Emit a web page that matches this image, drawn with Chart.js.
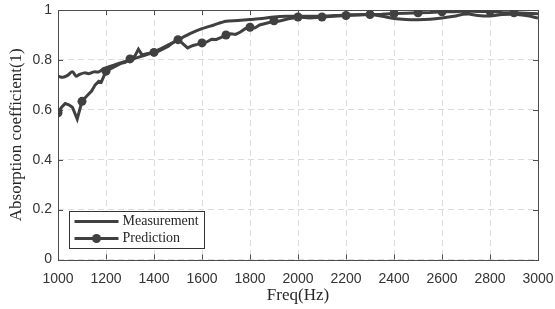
<!DOCTYPE html>
<html>
<head>
<meta charset="utf-8">
<script src="https://cdn.jsdelivr.net/npm/chart.js@4.4.1/dist/chart.umd.min.js"></script>
<style>
  body { margin: 0; background: #fff; }
  canvas { display: block; }
</style>
</head>
<body>
<canvas id="absorption-chart" width="555" height="309"></canvas>
<script>
// Measurement curve (Hz, coefficient)
const measFreq = [1000, 1020, 1040, 1060, 1075, 1090, 1110, 1130, 1150, 1170, 1190, 1210, 1250, 1300, 1350, 1400, 1450, 1500, 1550, 1600, 1650, 1700, 1750, 1800, 1850, 1900, 1950, 2000, 2100, 2200, 2300, 2350, 2400, 2450, 2500, 2550, 2600, 2650, 2700, 2750, 2800, 2850, 2900, 2950, 3000];
const measValue = [0.735, 0.73, 0.738, 0.753, 0.735, 0.742, 0.748, 0.745, 0.752, 0.752, 0.765, 0.772, 0.785, 0.80, 0.815, 0.832, 0.855, 0.88, 0.905, 0.925, 0.94, 0.955, 0.958, 0.962, 0.966, 0.972, 0.975, 0.975, 0.975, 0.98, 0.982, 0.975, 0.966, 0.962, 0.961, 0.963, 0.968, 0.975, 0.985, 0.978, 0.976, 0.982, 0.983, 0.978, 0.968];

// Prediction curve (Hz, coefficient)
const predFreq = [1000, 1015, 1030, 1045, 1060, 1080, 1100, 1120, 1140, 1155, 1170, 1180, 1200, 1220, 1240, 1260, 1280, 1300, 1320, 1335, 1350, 1370, 1400, 1420, 1440, 1460, 1480, 1500, 1520, 1540, 1560, 1580, 1600, 1620, 1640, 1660, 1680, 1700, 1720, 1740, 1760, 1780, 1800, 1820, 1840, 1860, 1880, 1900, 1920, 1940, 1960, 1980, 2000, 2050, 2100, 2150, 2200, 2250, 2300, 2350, 2400, 2450, 2500, 2550, 2600, 2650, 2700, 2750, 2800, 2850, 2900, 2950, 3000];
const predValue = [0.588, 0.61, 0.625, 0.62, 0.61, 0.563, 0.634, 0.655, 0.675, 0.70, 0.714, 0.71, 0.755, 0.765, 0.775, 0.785, 0.79, 0.804, 0.815, 0.843, 0.82, 0.825, 0.83, 0.835, 0.845, 0.855, 0.87, 0.881, 0.865, 0.848, 0.857, 0.862, 0.868, 0.872, 0.883, 0.882, 0.89, 0.90, 0.905, 0.902, 0.912, 0.925, 0.931, 0.928, 0.94, 0.945, 0.95, 0.957, 0.955, 0.96, 0.965, 0.968, 0.972, 0.968, 0.972, 0.975, 0.978, 0.98, 0.982, 0.983, 0.986, 0.987, 0.989, 0.99, 0.993, 0.993, 0.996, 0.994, 0.995, 0.99, 0.989, 0.987, 0.985];

const xTicks = [1000, 1200, 1400, 1600, 1800, 2000, 2200, 2400, 2600, 2800, 3000];
const yTicks = [0, 0.2, 0.4, 0.6, 0.8, 1];

const lineColor = '#404040';
const frameColor = '#4d4d4d';

function toPoints(xs, ys) {
    return xs.map((x, i) => ({ x: x, y: ys[i] }));
}

// box + inward ticks, MATLAB style
const framePlugin = {
    id: 'frame',
    beforeDatasetsDraw(chart) {
        const { ctx, chartArea: a, scales } = chart;
        ctx.save();
        ctx.strokeStyle = frameColor;
        ctx.lineWidth = 1;
        ctx.setLineDash([]);
        ctx.strokeRect(Math.round(a.left) + 0.5, Math.round(a.top) + 0.5, Math.round(a.right - a.left), Math.round(a.bottom - a.top));
        const len = 5;
        ctx.beginPath();
        xTicks.forEach(t => {
            const px = Math.round(scales.x.getPixelForValue(t)) + 0.5;
            ctx.moveTo(px, a.bottom); ctx.lineTo(px, a.bottom - len);
            ctx.moveTo(px, a.top); ctx.lineTo(px, a.top + len);
        });
        yTicks.forEach(t => {
            const py = Math.round(scales.y.getPixelForValue(t)) + 0.5;
            ctx.moveTo(a.left, py); ctx.lineTo(a.left + len, py);
            ctx.moveTo(a.right, py); ctx.lineTo(a.right - len, py);
        });
        ctx.stroke();
        ctx.restore();
    }
};

// legend box in lower left of the plot
const legendPlugin = {
    id: 'innerLegend',
    afterDraw(chart) {
        const { ctx, chartArea: a } = chart;
        const x0 = Math.round(a.left) + 11.5;
        const y0 = Math.round(a.bottom) - 48.5;
        ctx.save();
        ctx.fillStyle = '#fff';
        ctx.fillRect(x0, y0, 135, 37);
        ctx.strokeStyle = '#333';
        ctx.lineWidth = 1;
        ctx.strokeRect(x0, y0, 135, 37);
        ctx.font = '14px "Liberation Serif"';
        ctx.textBaseline = 'middle';
        chart.data.datasets.forEach((ds, i) => {
            const cy = y0 + 10 + i * 17;
            ctx.strokeStyle = lineColor;
            ctx.lineWidth = 3;
            ctx.beginPath();
            ctx.moveTo(x0 + 5, cy);
            ctx.lineTo(x0 + 49, cy);
            ctx.stroke();
            if (i === 1) {
                ctx.fillStyle = lineColor;
                ctx.beginPath();
                ctx.arc(x0 + 27, cy, 4.5, 0, Math.PI * 2);
                ctx.fill();
            }
            ctx.fillStyle = '#262626';
            ctx.fillText(ds.label, x0 + 53, cy);
        });
        ctx.restore();
    }
};

const ctx = document.getElementById('absorption-chart').getContext('2d');
const chart = new Chart(ctx, {
    type: 'line',
    data: {
        datasets: [
            {
                label: 'Measurement',
                data: toPoints(measFreq, measValue),
                borderColor: lineColor,
                borderWidth: 3,
                pointRadius: 0,
                tension: 0.3
            },
            {
                label: 'Prediction',
                data: toPoints(predFreq, predValue),
                borderColor: lineColor,
                backgroundColor: lineColor,
                borderWidth: 3,
                pointRadius: c => (c.raw && c.raw.x % 100 === 0 && c.raw.x < 3000) ? 4.5 : 0,
                pointBorderWidth: 0,
                tension: 0
            }
        ]
    },
    options: {
        responsive: false,
        animation: false,
        layout: { padding: { top: 10, right: 17, left: 0, bottom: 0 } },
        plugins: { legend: { display: false }, tooltip: { enabled: false } },
        scales: {
            x: {
                type: 'linear',
                min: 1000,
                max: 3000,
                afterBuildTicks: s => { s.ticks = xTicks.map(v => ({ value: v })); },
                afterFit: s => { s.height = 49.5; s.paddingLeft = 0; s.paddingRight = 0; },
                grid: { color: '#dcdcdc', drawTicks: false },
                border: { display: false, dash: [6, 4] },
                ticks: { color: '#333', font: { family: '"Liberation Sans"', size: 14 }, padding: 11, maxRotation: 0, callback: v => String(v) },
                title: { display: true, text: 'Freq(Hz)', color: '#262626', font: { family: '"Liberation Serif"', size: 17 }, padding: { top: 0, bottom: 3 } }
            },
            y: {
                min: 0,
                max: 1,
                afterBuildTicks: s => { s.ticks = yTicks.map(v => ({ value: v })); },
                afterFit: s => { s.width = 58; s.paddingTop = 0; s.paddingBottom = 0; },
                grid: { color: '#dcdcdc', drawTicks: false },
                border: { display: false, dash: [6, 4] },
                ticks: { color: '#333', font: { family: '"Liberation Sans"', size: 14 }, padding: 6, callback: v => String(v) },
                title: { display: true, text: 'Absorption coefficient(1)', color: '#262626', font: { family: '"Liberation Serif"', size: 17 }, padding: { top: 6, bottom: 0 } }
            }
        }
    },
    plugins: [framePlugin, legendPlugin]
});
</script>
</body>
</html>
